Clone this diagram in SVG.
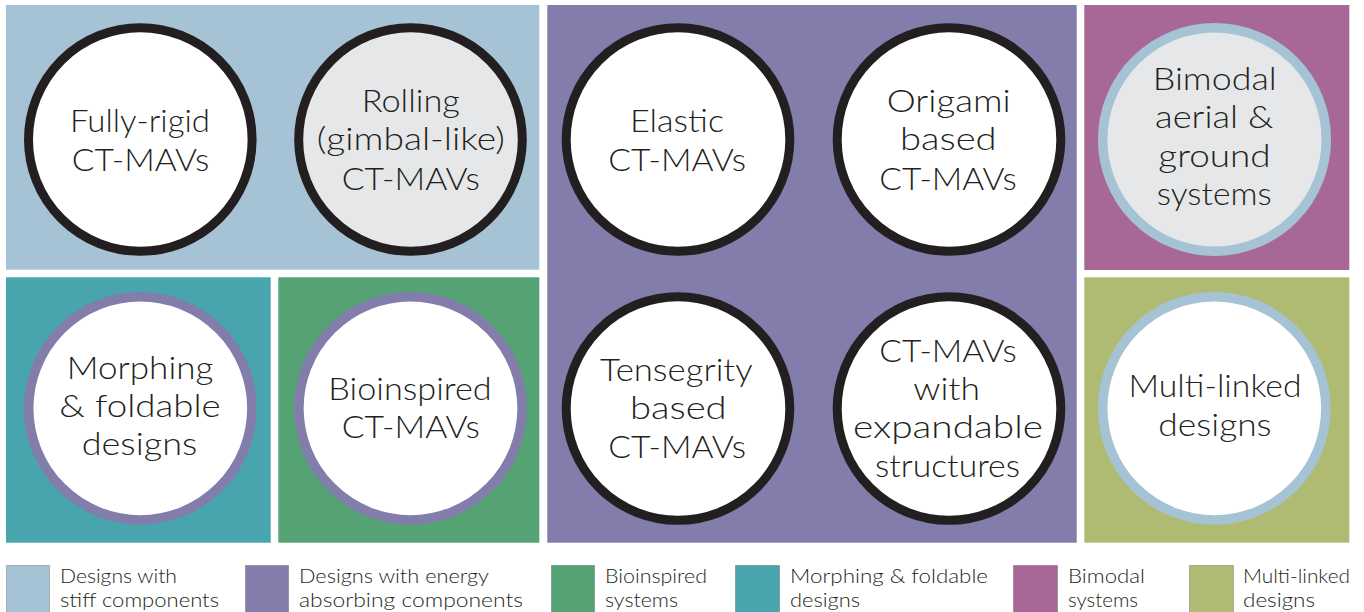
<svg xmlns="http://www.w3.org/2000/svg" width="1364" height="612" viewBox="0 0 1364 612">
<style>
.t{font-family:Lato,"Liberation Sans",sans-serif;font-weight:300;font-size:31px;fill:#231f20;text-anchor:middle}
.l{font-family:Lato,"Liberation Sans",sans-serif;font-weight:300;font-size:19px;fill:#231f20}
.ck{stroke:#231f20;stroke-width:9}
.cp{stroke:#827dab;stroke-width:9.5}
.cb{stroke:#a5c3d4;stroke-width:9.5}
.sw{stroke:#000;stroke-opacity:0.22;stroke-width:1}
</style>
<rect width="1364" height="612" fill="#ffffff"/>
<g id="panels">
<rect id="panel-stiff" x="6" y="5" width="533.3" height="264.7" fill="#a5c3d4"/>
<rect id="panel-energy" x="547.3" y="5" width="529.4" height="537.7" fill="#827dab"/>
<rect id="panel-bimodal" x="1084.3" y="5" width="265" height="265" fill="#a76898"/>
<rect id="panel-morphing" x="6" y="277.3" width="264.7" height="265.4" fill="#48a5ae"/>
<rect id="panel-bio" x="278.3" y="277.3" width="261" height="265.4" fill="#55a275"/>
<rect id="panel-multi" x="1084.3" y="277.3" width="265" height="265.4" fill="#afbb73"/>
</g>
<g id="node-fully-rigid">
<circle class="ck" cx="140.3" cy="139.5" r="111.8" fill="#ffffff"/>
<text class="t" x="140" y="131.7" textLength="140" lengthAdjust="spacingAndGlyphs">Fully-rigid</text>
<text class="t" x="140.5" y="170.7" textLength="137.6" lengthAdjust="spacingAndGlyphs">CT-MAVs</text>
</g>
<g id="node-rolling">
<circle class="ck" cx="410.5" cy="139.5" r="111.8" fill="#e6e7e8"/>
<text class="t" x="410.8" y="111.7" textLength="98.3" lengthAdjust="spacingAndGlyphs">Rolling</text>
<text class="t" x="410.8" y="150.3" textLength="188.3" lengthAdjust="spacingAndGlyphs">(gimbal-like)</text>
<text class="t" x="410.8" y="190" textLength="138.3" lengthAdjust="spacingAndGlyphs">CT-MAVs</text>
</g>
<g id="node-elastic">
<circle class="ck" cx="678" cy="139.5" r="111.8" fill="#ffffff"/>
<text class="t" x="677" y="131.7" textLength="94" lengthAdjust="spacingAndGlyphs">Elastic</text>
<text class="t" x="677.2" y="170.7" textLength="137.7" lengthAdjust="spacingAndGlyphs">CT-MAVs</text>
</g>
<g id="node-origami">
<circle class="ck" cx="949" cy="139.5" r="111.8" fill="#ffffff"/>
<text class="t" x="948.7" y="111.7" textLength="124" lengthAdjust="spacingAndGlyphs">Origami</text>
<text class="t" x="948.3" y="150" textLength="96.7" lengthAdjust="spacingAndGlyphs">based</text>
<text class="t" x="948" y="190" textLength="137.3" lengthAdjust="spacingAndGlyphs">CT-MAVs</text>
</g>
<g id="node-bimodal">
<circle class="cb" cx="1214.5" cy="139.5" r="111.8" fill="#e6e7e8"/>
<text class="t" x="1214.7" y="89.5" textLength="124" lengthAdjust="spacingAndGlyphs">Bimodal</text>
<text class="t" x="1214.2" y="128" textLength="118.3" lengthAdjust="spacingAndGlyphs">aerial &amp;</text>
<text class="t" x="1214.5" y="166.5" textLength="112.3" lengthAdjust="spacingAndGlyphs">ground</text>
<text class="t" x="1214.2" y="205" textLength="115" lengthAdjust="spacingAndGlyphs">systems</text>
</g>
<g id="node-morphing">
<circle class="cp" cx="140.3" cy="408.3" r="111.6" fill="#ffffff"/>
<text class="t" x="140" y="379.3" textLength="146.7" lengthAdjust="spacingAndGlyphs">Morphing</text>
<text class="t" x="140" y="417.3" textLength="161.3" lengthAdjust="spacingAndGlyphs">&amp; foldable</text>
<text class="t" x="139.5" y="455" textLength="115.7" lengthAdjust="spacingAndGlyphs">designs</text>
</g>
<g id="node-bioinspired">
<circle class="cp" cx="410.5" cy="408.3" r="111.6" fill="#ffffff"/>
<text class="t" x="410" y="400" textLength="163.3" lengthAdjust="spacingAndGlyphs">Bioinspired</text>
<text class="t" x="410.8" y="438.3" textLength="138.3" lengthAdjust="spacingAndGlyphs">CT-MAVs</text>
</g>
<g id="node-tensegrity">
<circle class="ck" cx="678" cy="408.5" r="111.8" fill="#ffffff"/>
<text class="t" x="676.3" y="380.7" textLength="152.7" lengthAdjust="spacingAndGlyphs">Tensegrity</text>
<text class="t" x="678.3" y="419" textLength="96.7" lengthAdjust="spacingAndGlyphs">based</text>
<text class="t" x="677.2" y="458.3" textLength="137.7" lengthAdjust="spacingAndGlyphs">CT-MAVs</text>
</g>
<g id="node-expandable">
<circle class="ck" cx="949" cy="408.5" r="111.8" fill="#ffffff"/>
<text class="t" x="948" y="361.7" textLength="137.3" lengthAdjust="spacingAndGlyphs">CT-MAVs</text>
<text class="t" x="946.7" y="400" textLength="66.7" lengthAdjust="spacingAndGlyphs">with</text>
<text class="t" x="948" y="438.3" textLength="190" lengthAdjust="spacingAndGlyphs">expandable</text>
<text class="t" x="947.5" y="477.3" textLength="145" lengthAdjust="spacingAndGlyphs">structures</text>
</g>
<g id="node-multi-linked">
<circle class="cb" cx="1214.3" cy="408.3" r="111.6" fill="#ffffff"/>
<text class="t" x="1215" y="397.3" textLength="173" lengthAdjust="spacingAndGlyphs">Multi-linked</text>
<text class="t" x="1215" y="436" textLength="113.3" lengthAdjust="spacingAndGlyphs">designs</text>
</g>
<g id="connectors"></g>
<g id="legend">
<rect class="sw" x="6.5" y="565.5" width="43" height="50" fill="#a5c3d4"/>
<text class="l" x="60" y="583" textLength="117" lengthAdjust="spacingAndGlyphs">Designs with</text>
<text class="l" x="60" y="606.5" textLength="159" lengthAdjust="spacingAndGlyphs">stiff components</text>
<rect class="sw" x="245.5" y="565.5" width="43" height="50" fill="#827dab"/>
<text class="l" x="299" y="583" textLength="190" lengthAdjust="spacingAndGlyphs">Designs with energy</text>
<text class="l" x="299" y="606.5" textLength="224" lengthAdjust="spacingAndGlyphs">absorbing components</text>
<rect class="sw" x="551.5" y="565.5" width="43" height="50" fill="#55a275"/>
<text class="l" x="605" y="583" textLength="102" lengthAdjust="spacingAndGlyphs">Bioinspired</text>
<text class="l" x="605" y="606.5" textLength="73" lengthAdjust="spacingAndGlyphs">systems</text>
<rect class="sw" x="735.5" y="565.5" width="44" height="50" fill="#48a5ae"/>
<text class="l" x="790" y="583" textLength="198" lengthAdjust="spacingAndGlyphs">Morphing &amp; foldable</text>
<text class="l" x="790" y="606.5" textLength="70" lengthAdjust="spacingAndGlyphs">designs</text>
<rect class="sw" x="1013.5" y="565.5" width="44" height="50" fill="#a76898"/>
<text class="l" x="1068" y="583" textLength="77" lengthAdjust="spacingAndGlyphs">Bimodal</text>
<text class="l" x="1068" y="606.5" textLength="70" lengthAdjust="spacingAndGlyphs">systems</text>
<rect class="sw" x="1189.5" y="565.5" width="44" height="50" fill="#afbb73"/>
<text class="l" x="1243" y="583" textLength="107" lengthAdjust="spacingAndGlyphs">Multi-linked</text>
<text class="l" x="1243" y="606.5" textLength="72" lengthAdjust="spacingAndGlyphs">designs</text>
</g>
</svg>
